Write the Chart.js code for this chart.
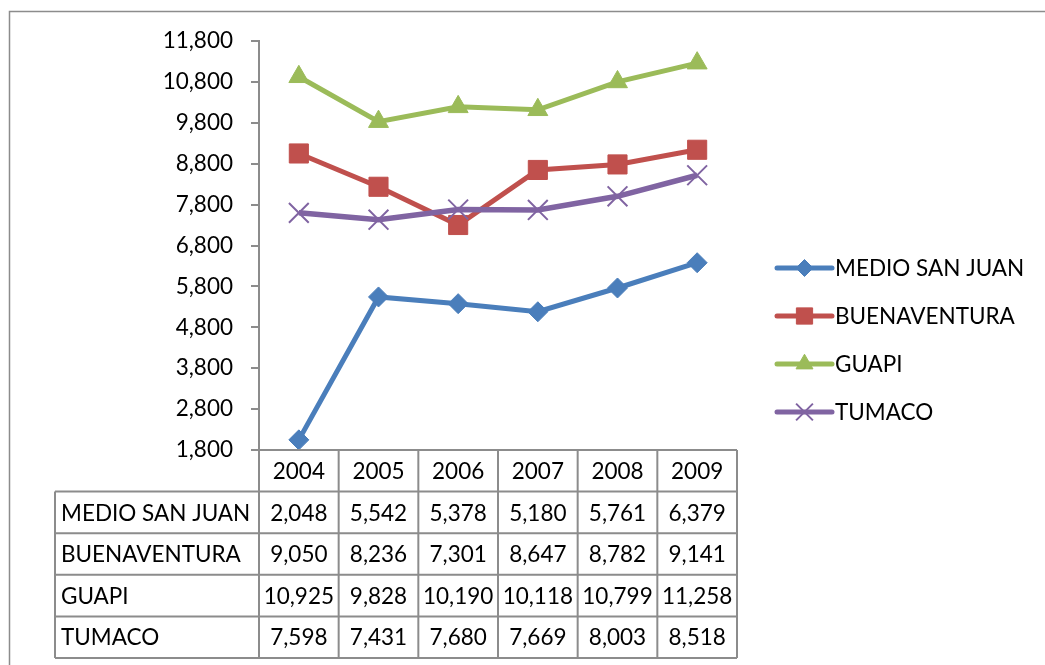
<!DOCTYPE html>
<html><head><meta charset="utf-8">
<script src="https://cdn.jsdelivr.net/npm/chart.js@4/dist/chart.umd.min.js"></script>
<style>html,body{margin:0;padding:0;background:#fff;overflow:hidden}#wrap{position:relative;width:1045px;height:665px}</style>
</head><body><div id="wrap"><canvas id="c" width="1045" height="665"></canvas></div>
<script>
const years = ['2004','2005','2006','2007','2008','2009'];
const seriesNames = ['MEDIO SAN JUAN','BUENAVENTURA','GUAPI','TUMACO'];
const medioSanJuan = [2048,5542,5378,5180,5761,6379];
const buenaventura = [9050,8236,7301,8647,8782,9141];
const guapi = [10925,9828,10190,10118,10799,11258];
const tumaco = [7598,7431,7680,7669,8003,8518];
const yMin = 1800, yMax = 11800, yStep = 1000;

const FONT = 'Lato, Carlito, Calibri, sans-serif';
const FSIZE = 22.5;
const GRAY = '#8c8c8c';
const fmt = v => v.toLocaleString('en-US');

const styles = [
  {color:'#4a7ebb', point:'rectRot', r:10, bw:1},
  {color:'#c0504d', point:'rect', r:13.5, bw:1},
  {color:'#9bbb59', point:'triangle', r:11.5, bw:1},
  {color:'#8064a2', point:'crossRot', r:14, bw:2}
];
const values = [medioSanJuan, buenaventura, guapi, tumaco];

const datasets = values.map((d,i)=>({
  label: seriesNames[i],
  data: d,
  borderColor: styles[i].color,
  backgroundColor: styles[i].color,
  pointBackgroundColor: styles[i].color,
  pointBorderColor: styles[i].color,
  pointStyle: styles[i].point,
  pointRadius: styles[i].r,
  pointHoverRadius: styles[i].r,
  pointBorderWidth: styles[i].bw,
  borderWidth: i===3 ? 5.5 : 5,
  tension: 0,
  clip: false,
  order: 3 - i
}));

const tablePlugin = {
  id: 'tableLegend',
  afterDraw(chart){
    const ctx = chart.ctx;
    const xs = chart.scales.x;
    const ca = chart.chartArea;
    const n = years.length;
    const cw = (ca.right - ca.left) / n;
    const rowH = 41.6;
    const top = ca.bottom;
    const leftEdge = 55;
    ctx.save();
    ctx.strokeStyle = GRAY; ctx.lineWidth = 1.5;
    ctx.beginPath(); ctx.moveTo(9.5, 665); ctx.lineTo(9.5, 11.5); ctx.lineTo(1045, 11.5); ctx.stroke();
    ctx.strokeStyle = GRAY; ctx.lineWidth = 2;
    ctx.beginPath();
    ctx.moveTo(ca.left - 8, top); ctx.lineTo(ca.right, top);
    for (let r = 1; r <= seriesNames.length + 1; r++) {
      const y = top + r * rowH;
      ctx.moveTo(leftEdge, y); ctx.lineTo(ca.right, y);
    }
    const bottom = top + (seriesNames.length + 1) * rowH;
    ctx.moveTo(leftEdge, top + rowH); ctx.lineTo(leftEdge, bottom);
    for (let c = 0; c <= n; c++) {
      const x = ca.left + c * cw;
      ctx.moveTo(x, top); ctx.lineTo(x, bottom);
    }
    ctx.stroke();
    ctx.fillStyle = '#000';
    ctx.font = FSIZE + 'px ' + FONT;
    ctx.textBaseline = 'middle';
    ctx.textAlign = 'center';
    years.forEach((yr, c) => {
      ctx.fillText(yr, xs.getPixelForValue(c), top + rowH/2 + 1);
    });
    values.forEach((d, r) => {
      const yc = top + (r + 1) * rowH + rowH/2 + 1;
      ctx.textAlign = 'left';
      ctx.fillText(seriesNames[r], leftEdge + 6, yc);
      ctx.textAlign = 'center';
      d.forEach((v, c) => ctx.fillText(fmt(v), xs.getPixelForValue(c), yc));
    });
    const lx0 = ca.right + 40, lx1 = lx0 + 55, ly0 = 268, lstep = 48;
    seriesNames.forEach((name, i) => {
      const y = ly0 + i * lstep;
      const st = styles[i];
      ctx.strokeStyle = st.color; ctx.lineWidth = 5; ctx.lineCap = 'round';
      ctx.beginPath(); ctx.moveTo(lx0, y); ctx.lineTo(lx1, y); ctx.stroke();
      ctx.lineCap = 'butt';
      ctx.fillStyle = st.color; ctx.strokeStyle = st.color; ctx.lineWidth = st.bw;
      Chart.helpers.drawPoint(ctx, {pointStyle: st.point, radius: st.r * 0.85, rotation: 0, borderWidth: st.bw}, (lx0 + lx1)/2, y);
      ctx.fillStyle = '#000';
      ctx.textAlign = 'left';
      ctx.font = FSIZE + 'px ' + FONT;
      ctx.fillText(name, lx1 + 3, y + 1);
    });
    ctx.restore();
  }
};

new Chart(document.getElementById('c'), {
  type: 'line',
  data: { labels: years, datasets },
  options: {
    responsive: false,
    animation: false,
    events: [],
    layout: { padding: { top: 41, left: 0, right: 1045 - 737, bottom: 665 - 450 } },
    plugins: { legend: { display: false }, tooltip: { enabled: false } },
    scales: {
      x: { display: false, offset: true },
      y: {
        min: yMin, max: yMax,
        afterFit(scale){ scale.width = 259; },
        afterBuildTicks(scale){ const t=[]; for(let v=yMin; v<=yMax; v+=yStep) t.push({value:v}); scale.ticks = t; },
        ticks: { stepSize: yStep, color: '#000', font: { family: FONT, size: FSIZE }, padding: 18, callback: v => fmt(v) },
        grid: { drawOnChartArea: false, drawTicks: true, tickLength: 8, color: GRAY, lineWidth: 2 },
        border: { display: true, color: GRAY, width: 2 }
      }
    }
  },
  plugins: [tablePlugin]
});
</script>
</body></html>
